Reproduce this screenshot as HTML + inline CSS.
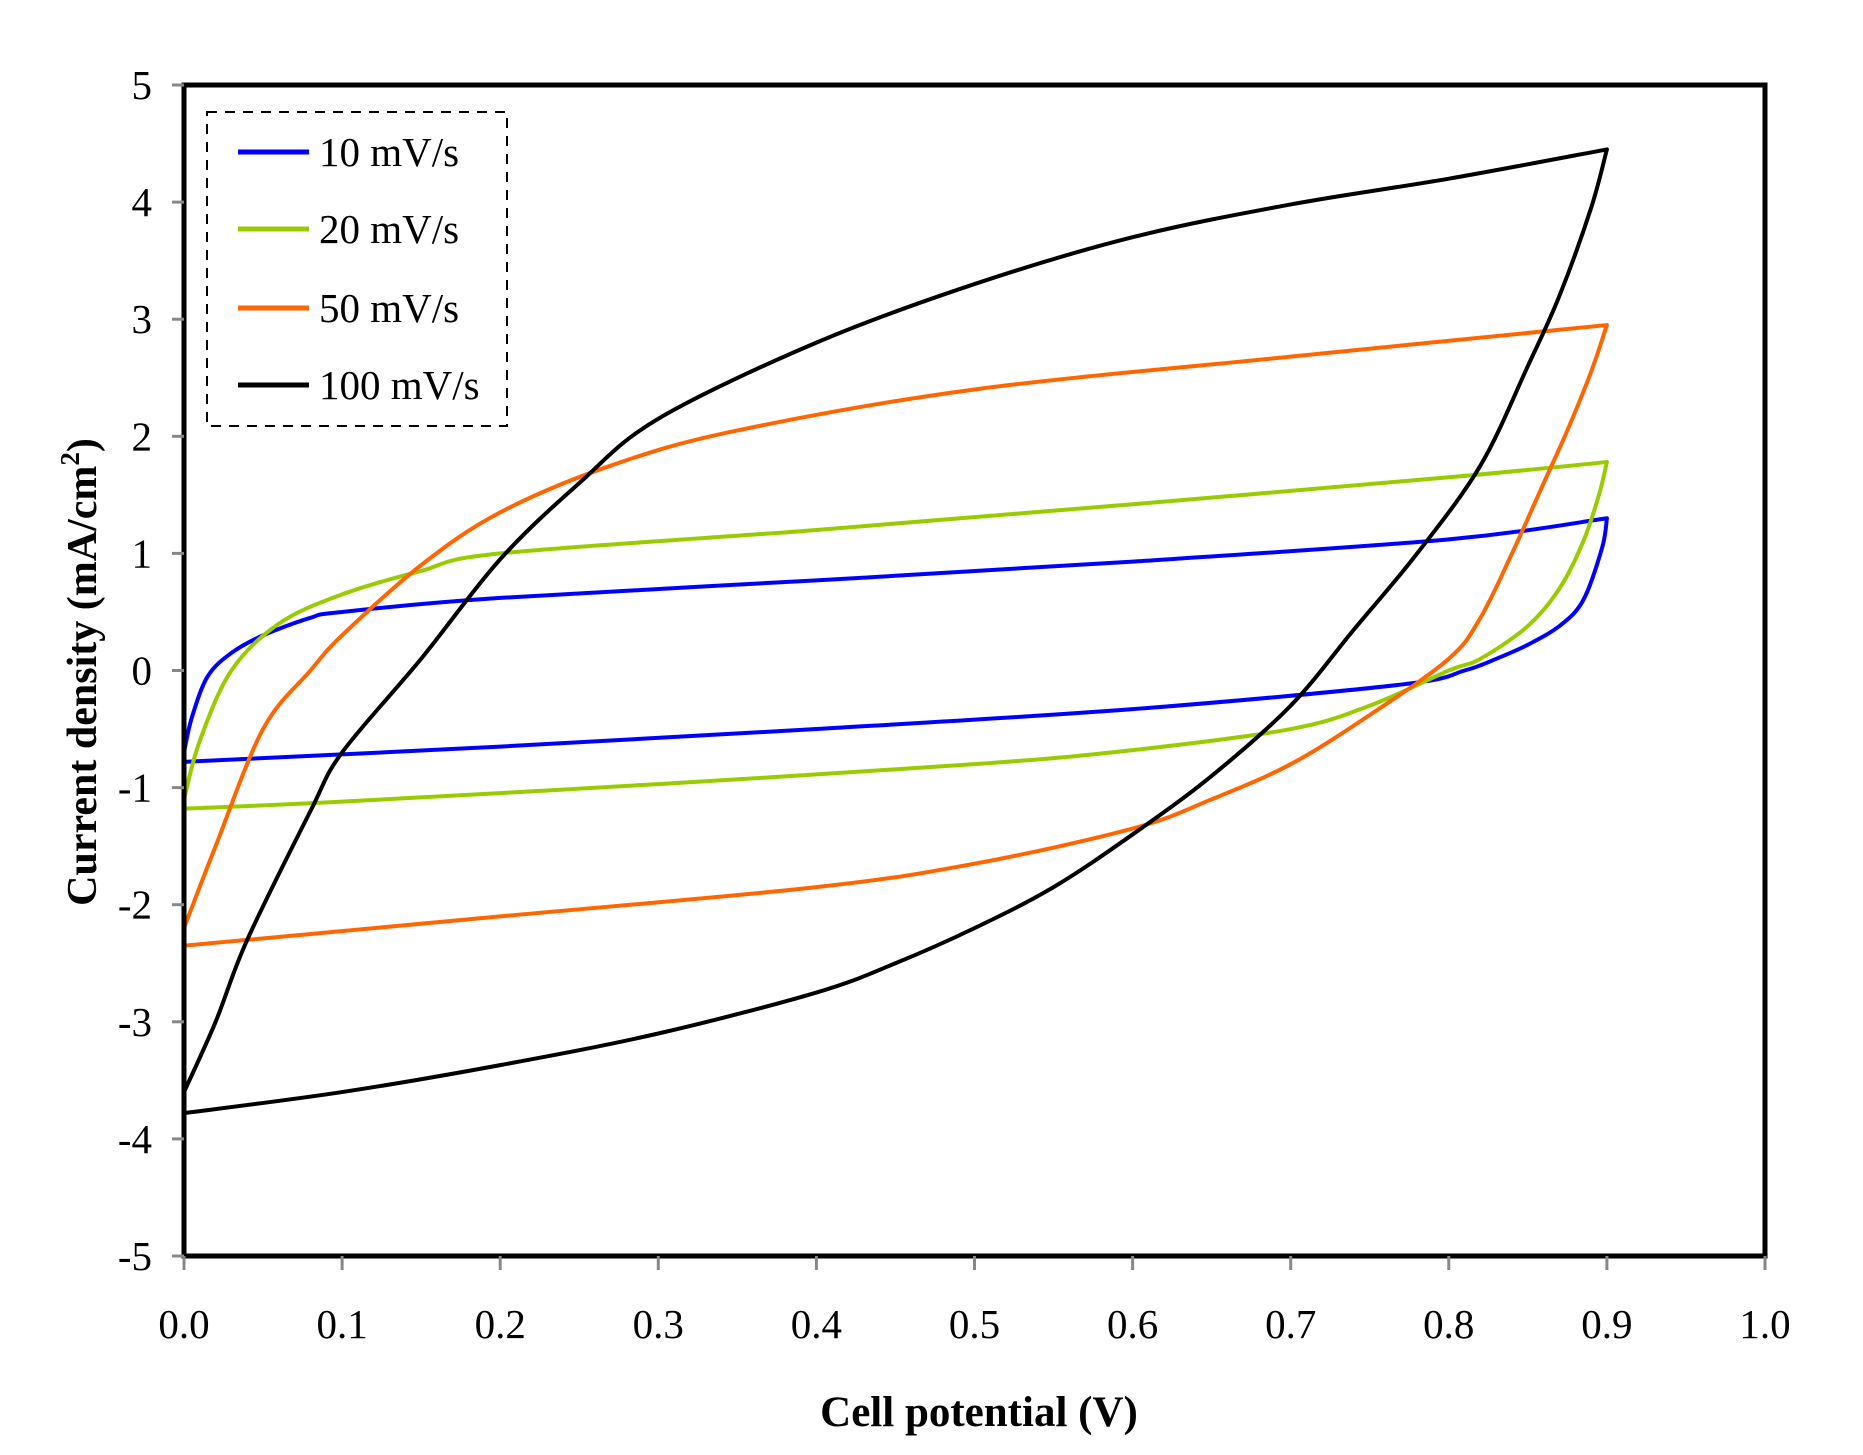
<!DOCTYPE html>
<html><head><meta charset="utf-8"><style>
body{margin:0;background:#fff}
svg{display:block}
text{font-family:"Liberation Serif",serif;fill:#000}
</style></head><body>
<svg id="s" width="1863" height="1455" xmlns="http://www.w3.org/2000/svg">
<rect width="1863" height="1455" fill="#fff"/>
<g id="curves" fill="none" stroke-width="4" stroke-linejoin="round" stroke-linecap="round"></g>
<rect x="184" y="85" width="1581" height="1171" fill="none" stroke="#000" stroke-width="5"/>
<g stroke="#888" stroke-width="3" id="ticks"></g>
<g font-size="41" text-anchor="end" id="ylab"></g>
<g font-size="41" text-anchor="middle" id="xlab"></g>
<text x="979" y="1426" font-size="43" font-weight="bold" text-anchor="middle">Cell potential (V)</text>
<text transform="translate(96,672) rotate(-90)" font-size="42" font-weight="bold" text-anchor="middle">Current density (mA/cm<tspan font-size="27" dy="-17">2</tspan><tspan dy="17">)</tspan></text>
<rect x="207" y="112" width="300" height="314" fill="#fff" stroke="#000" stroke-width="2" stroke-dasharray="10,8"/>
<g stroke-width="5">
<line x1="238" y1="152" x2="309" y2="152" stroke="#0000ff"/>
<line x1="238" y1="229" x2="309" y2="229" stroke="#99cc00"/>
<line x1="238" y1="308" x2="309" y2="308" stroke="#ff6600"/>
<line x1="238" y1="385" x2="309" y2="385" stroke="#000"/>
</g>
<g font-size="41">
<text x="319" y="166">10 mV/s</text>
<text x="319" y="243">20 mV/s</text>
<text x="319" y="322">50 mV/s</text>
<text x="319" y="399">100 mV/s</text>
</g>
</svg>
<script>
const X=v=>184+v*1581, Y=j=>85+(5-j)*117.1;
const NS="http://www.w3.org/2000/svg";
const t=document.getElementById('ticks'),yl=document.getElementById('ylab'),xl=document.getElementById('xlab');
for(let j=-5;j<=5;j++){const l=document.createElementNS(NS,'line');l.setAttribute('x1',172);l.setAttribute('x2',184);l.setAttribute('y1',Y(j));l.setAttribute('y2',Y(j));t.appendChild(l);
const tx=document.createElementNS(NS,'text');tx.setAttribute('x',152);tx.setAttribute('y',Y(j)+14);tx.textContent=j;yl.appendChild(tx);}
for(let i=0;i<=10;i++){const x=X(i/10);const l=document.createElementNS(NS,'line');l.setAttribute('x1',x);l.setAttribute('x2',x);l.setAttribute('y1',1256);l.setAttribute('y2',1270);t.appendChild(l);
const tx=document.createElementNS(NS,'text');tx.setAttribute('x',x);tx.setAttribute('y',1338);tx.textContent=(i/10).toFixed(1);xl.appendChild(tx);}
// each series: list of branches (each a smooth spline)
const data=[
["#0000ff",[[[0,-0.7],[0.005,-0.4],[0.015,-0.05],[0.03,0.15],[0.05,0.3],[0.08,0.45],[0.1,0.5],[0.2,0.62],[0.4,0.77],[0.6,0.93],[0.8,1.12],[0.9,1.3]],
 [[0.9,1.3],[0.897,1.05],[0.885,0.6],[0.87,0.38],[0.85,0.22],[0.83,0.1],[0.81,0.0],[0.77,-0.12],[0.6,-0.33],[0.4,-0.5],[0.2,-0.65],[0.0,-0.78]],[[0,-0.78],[0,-0.7]]]],
["#99cc00",[[[0,-1.1],[0.01,-0.6],[0.03,0],[0.06,0.4],[0.1,0.65],[0.15,0.85],[0.2,1.0],[0.4,1.2],[0.6,1.42],[0.8,1.65],[0.9,1.78]],
 [[0.9,1.78],[0.895,1.5],[0.885,1.1],[0.87,0.7],[0.85,0.38],[0.82,0.1],[0.8,0],[0.75,-0.3],[0.7,-0.5],[0.6,-0.68],[0.5,-0.8],[0.3,-0.97],[0.1,-1.12],[0,-1.18]],[[0,-1.18],[0,-1.1]]]],
["#ff6600",[[[0,-2.2],[0.02,-1.5],[0.05,-0.5],[0.08,0],[0.1,0.3],[0.15,0.9],[0.2,1.35],[0.27,1.75],[0.35,2.05],[0.5,2.4],[0.7,2.68],[0.9,2.95]],
 [[0.9,2.95],[0.89,2.55],[0.875,2.05],[0.86,1.6],[0.84,1.0],[0.82,0.45],[0.8,0.1],[0.75,-0.38],[0.7,-0.8],[0.65,-1.1],[0.6,-1.35],[0.5,-1.65],[0.4,-1.85],[0.2,-2.1],[0,-2.35]],[[0,-2.35],[0,-2.2]]]],
["#000000",[[[0,-3.6],[0.02,-3.0],[0.04,-2.3],[0.08,-1.2],[0.1,-0.7],[0.15,0.1],[0.2,0.95],[0.25,1.6],[0.3,2.15],[0.4,2.8],[0.5,3.3],[0.6,3.7],[0.7,3.98],[0.8,4.2],[0.9,4.45]],
 [[0.9,4.45],[0.89,3.95],[0.87,3.2],[0.85,2.6],[0.82,1.75],[0.78,1.0],[0.74,0.35],[0.7,-0.3],[0.65,-0.9],[0.6,-1.4],[0.55,-1.85],[0.5,-2.2],[0.45,-2.5],[0.4,-2.75],[0.3,-3.1],[0.2,-3.37],[0.1,-3.6],[0,-3.78]],[[0,-3.78],[0,-3.6]]]]];
const g=document.getElementById('curves');
for(const [c,branches] of data){let d="";
for(const pts of branches){const p=pts.map(q=>[X(q[0]),Y(q[1])]);
d+="M"+p[0][0]+","+p[0][1];
for(let i=0;i<p.length-1;i++){const p0=p[Math.max(i-1,0)],p1=p[i],p2=p[i+1],p3=p[Math.min(i+2,p.length-1)];
d+=` C${p1[0]+(p2[0]-p0[0])/6},${p1[1]+(p2[1]-p0[1])/6} ${p2[0]-(p3[0]-p1[0])/6},${p2[1]-(p3[1]-p1[1])/6} ${p2[0]},${p2[1]}`;}}
const e=document.createElementNS(NS,'path');e.setAttribute('d',d);e.setAttribute('stroke',c);g.appendChild(e);}
</script>
</body></html>
